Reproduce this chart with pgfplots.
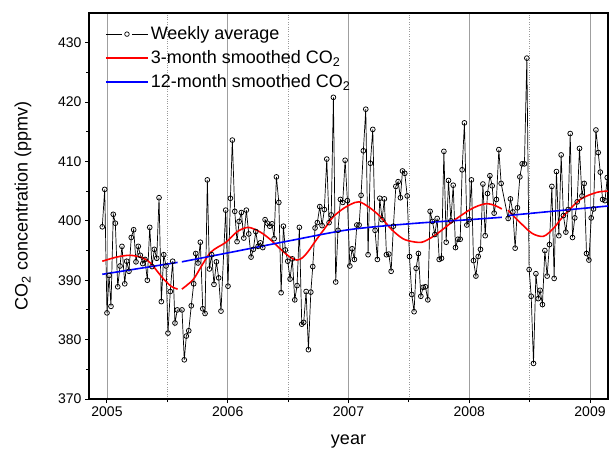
\documentclass[border=0pt]{standalone}
\usepackage{fontspec}
\setmainfont{Liberation Sans}
\usepackage{pgfplots}
\usepackage{pgfplotstable}
\pgfplotsset{compat=1.18}
\pgfplotstableread{
x y
2004.961 399.0
2004.981 405.3
2005.000 384.5
2005.017 390.8
2005.033 385.6
2005.052 401.1
2005.069 399.6
2005.089 388.9
2005.108 392.4
2005.124 395.7
2005.147 389.4
2005.163 393.2
2005.182 391.5
2005.201 397.2
2005.221 398.5
2005.240 393.1
2005.259 395.7
2005.276 394.2
2005.296 392.8
2005.315 393.5
2005.334 390.0
2005.354 398.9
2005.373 392.3
2005.392 395.2
2005.412 393.7
2005.431 403.9
2005.450 386.4
2005.470 394.3
2005.489 392.4
2005.505 381.1
2005.524 388.1
2005.544 393.2
2005.563 382.8
2005.582 385.0
2005.621 385.0
2005.640 376.6
2005.657 380.6
2005.677 381.5
2005.698 385.7
2005.718 389.4
2005.735 394.5
2005.754 392.9
2005.773 396.4
2005.793 385.2
2005.812 384.4
2005.831 406.9
2005.848 391.9
2005.867 394.3
2005.886 389.3
2005.906 393.1
2005.925 390.4
2005.944 384.8
2005.983 401.8
2006.002 389.0
2006.022 403.8
2006.038 413.6
2006.058 401.6
2006.077 396.5
2006.094 399.9
2006.113 401.4
2006.133 397.1
2006.154 401.8
2006.174 397.8
2006.193 393.9
2006.212 395.2
2006.232 398.2
2006.251 395.7
2006.270 396.3
2006.290 395.5
2006.309 400.2
2006.328 399.6
2006.348 399.1
2006.367 399.5
2006.384 397.0
2006.403 407.4
2006.423 403.1
2006.442 387.9
2006.461 399.1
2006.477 395.1
2006.497 393.2
2006.516 390.2
2006.535 393.6
2006.555 386.7
2006.574 389.1
2006.593 398.9
2006.613 382.6
2006.629 382.9
2006.649 388.1
2006.668 378.3
2006.688 388.0
2006.704 392.3
2006.723 398.8
2006.742 399.7
2006.762 402.4
2006.781 399.2
2006.800 401.9
2006.820 410.4
2006.839 399.7
2006.857 401.0
2006.875 420.8
2006.894 389.7
2006.913 398.4
2006.933 403.6
2006.952 403.1
2006.972 410.2
2006.991 403.4
2007.011 392.4
2007.030 395.3
2007.049 393.5
2007.069 399.3
2007.088 399.3
2007.104 404.3
2007.123 411.8
2007.143 418.8
2007.162 394.3
2007.181 409.7
2007.201 415.4
2007.220 398.4
2007.239 393.5
2007.259 403.8
2007.278 400.2
2007.297 403.7
2007.314 394.3
2007.334 394.4
2007.353 391.5
2007.372 399.1
2007.392 405.8
2007.411 406.6
2007.430 403.9
2007.447 408.4
2007.466 408.0
2007.486 404.2
2007.505 394.0
2007.524 387.6
2007.543 384.7
2007.560 392.0
2007.579 394.5
2007.599 387.3
2007.618 388.8
2007.637 388.9
2007.657 386.7
2007.676 401.6
2007.695 399.9
2007.715 397.7
2007.734 400.4
2007.751 393.5
2007.770 393.7
2007.790 411.7
2007.809 396.4
2007.828 406.8
2007.848 400.0
2007.867 406.0
2007.886 395.5
2007.906 396.9
2007.925 396.9
2007.941 408.6
2007.960 416.5
2007.980 399.3
2007.999 400.2
2008.018 406.9
2008.035 393.3
2008.055 390.7
2008.074 394.0
2008.093 395.2
2008.113 406.2
2008.132 397.5
2008.151 404.6
2008.171 407.6
2008.190 405.9
2008.206 401.3
2008.225 403.6
2008.245 412.0
2008.264 406.3
2008.322 400.4
2008.341 403.7
2008.361 401.5
2008.380 395.4
2008.399 402.2
2008.419 407.4
2008.438 409.6
2008.457 409.6
2008.477 427.4
2008.496 391.8
2008.513 387.3
2008.532 376.0
2008.552 391.1
2008.571 386.9
2008.587 388.3
2008.606 385.9
2008.626 395.0
2008.645 390.7
2008.664 396.0
2008.684 405.8
2008.703 390.3
2008.722 408.3
2008.742 397.5
2008.761 411.1
2008.780 400.9
2008.800 398.1
2008.819 401.9
2008.836 414.7
2008.855 397.2
2008.874 400.5
2008.894 403.2
2008.913 412.2
2008.933 404.2
2008.952 406.3
2008.971 394.5
2008.991 393.4
2009.010 400.5
2009.029 402.0
2009.049 415.3
2009.068 411.5
2009.085 408.2
2009.104 403.6
2009.124 403.4
2009.143 407.3
}\weekly
\pgfplotstableread{
x y
2004.961 393.2
2005.080 393.9
2005.190 394.2
2005.290 393.8
2005.360 392.9
2005.460 390.4
2005.530 389.0
2005.585 388.5
2005.603 nan
2005.620 388.5
2005.713 390.1
2005.780 392.3
2005.853 394.6
2005.920 395.6
2005.986 396.4
2006.080 398.2
2006.171 398.9
2006.270 398.1
2006.350 396.9
2006.450 395.0
2006.516 393.9
2006.572 393.4
2006.620 393.8
2006.668 394.9
2006.740 397.0
2006.806 398.8
2006.870 400.6
2006.945 401.9
2007.020 402.8
2007.088 403.2
2007.170 402.3
2007.259 400.8
2007.359 398.5
2007.450 397.0
2007.530 396.5
2007.607 396.4
2007.680 397.1
2007.745 398.0
2007.883 400.2
2007.999 401.8
2008.070 402.5
2008.146 402.9
2008.210 402.6
2008.270 402.0
2008.295 nan
2008.320 401.8
2008.422 399.7
2008.520 397.9
2008.615 397.4
2008.700 398.8
2008.780 400.8
2008.919 403.6
2009.057 404.8
2009.149 405.0
}\threemonth
\pgfplotstableread{
x y
2004.961 391.0
2005.585 393.0
2005.603 nan
2005.620 393.1
2006.000 394.6
2006.500 396.6
2007.000 398.5
2007.500 399.5
2008.000 400.2
2008.270 400.6
2008.295 nan
2008.320 400.9
2009.149 402.5
}\twelvemonth
\begin{document}
\begin{tikzpicture}
\begin{axis}[
  width=519pt, height=386pt, scale only axis,
  xmin=2004.851, xmax=2009.149, ymin=370, ymax=435,
  xtick={2005,2006,2007,2008,2009},
  xticklabels={2005,2006,2007,2008,2009},
  minor xtick={2005.5,2006.5,2007.5,2008.5},
  ytick={370,380,...,430},
  minor ytick={375,385,...,425},
  /pgf/number format/assume math mode=true,
  tick label style={font=\fontsize{14}{14}\selectfont},
  tick align=outside,
  xtick pos=bottom, ytick pos=left,
  major tick length=4pt, minor tick length=3pt,
  every tick/.style={black, line width=1pt},
  axis line style={line width=1.4pt},
  xmajorgrids, xminorgrids,
  major grid style={gray!75, line width=0.9pt},
  minor grid style={gray!80, dotted, line width=0.6pt},
  xlabel={year},
  ylabel={CO\textsubscript{2} concentration (ppmv)},
  label style={font=\fontsize{18}{18}\selectfont},
  x label style={at={(axis description cs:0.5,-0.111)}, anchor=center},
  y label style={at={(axis description cs:-0.127,0.5)}, anchor=center},
  unbounded coords=jump,
  legend style={at={(axis description cs:0.025,0.975)}, anchor=north west,
    draw=none, fill=none, font=\fontsize{18}{18}\selectfont,
    row sep=5.5pt, nodes={inner xsep=2pt}},
  legend cell align=left,
]
\addplot[black, line width=0.7pt, mark=o, mark size=2.4pt,
  mark options={fill=white, line width=0.75pt},
  legend image code/.code={\draw[black, line width=0.8pt] (0pt,0pt) -- (16pt,0pt);
    \draw[black, line width=0.8pt] (26pt,0pt) -- (42pt,0pt);
    \draw[black, fill=white, line width=0.7pt] (21pt,0pt) circle (2.3pt);}
  ] table[x=x,y=y] {\weekly};
\addlegendentry{Weekly average}
\addplot[red, line width=1.6pt, smooth,
  legend image code/.code={\draw[red, line width=1.6pt] (0pt,0pt) -- (42pt,0pt);}
  ] table[x=x,y=y] {\threemonth};
\addlegendentry{3-month smoothed CO\textsubscript{2}}
\addplot[blue, line width=1.6pt, smooth,
  legend image code/.code={\draw[blue, line width=1.6pt] (0pt,0pt) -- (42pt,0pt);}
  ] table[x=x,y=y] {\twelvemonth};
\addlegendentry{12-month smoothed CO\textsubscript{2}}
\end{axis}
\pgfresetboundingbox
\path[use as bounding box] ([xshift=-89pt,yshift=-61pt]current axis.south west) rectangle ([xshift=1pt,yshift=13pt]current axis.north east);
\end{tikzpicture}
\end{document}
